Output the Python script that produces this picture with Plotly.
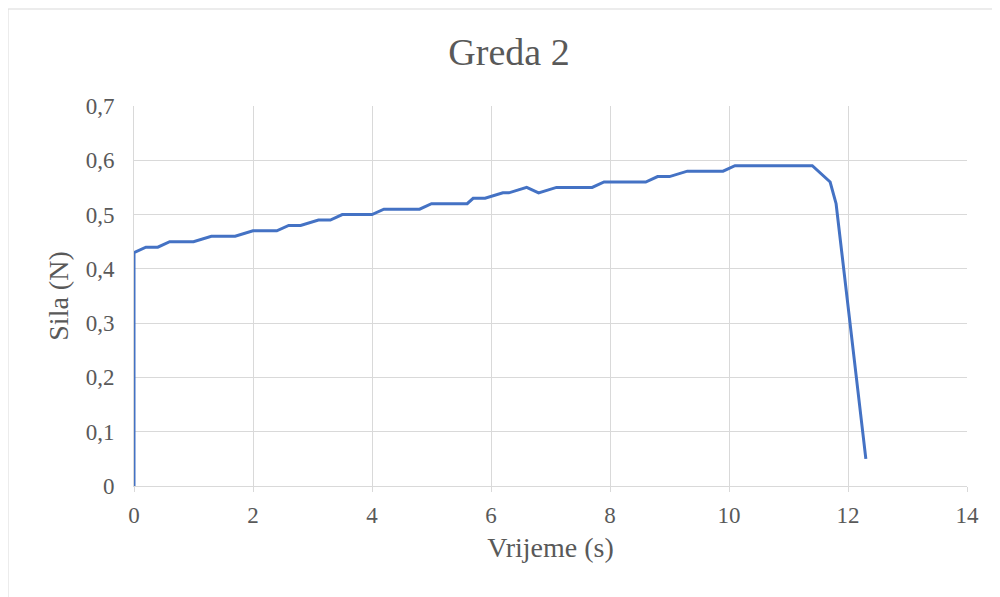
import plotly.graph_objects as go

time_s = [0, 0, 0.2, 0.4, 0.6, 1.0, 1.3, 1.7, 2.0, 2.4, 2.6, 2.8, 3.1, 3.3, 3.5, 4.0,
          4.2, 4.8, 5.0, 5.6, 5.7, 5.9, 6.2, 6.3, 6.6, 6.8, 7.1, 7.7, 7.9, 8.6, 8.8,
          9.0, 9.3, 9.9, 10.1, 11.4, 11.7, 11.8, 12.3]
force_n = [0, 0.43, 0.44, 0.44, 0.45, 0.45, 0.46, 0.46, 0.47, 0.47, 0.48, 0.48, 0.49,
           0.49, 0.50, 0.50, 0.51, 0.51, 0.52, 0.52, 0.53, 0.53, 0.54, 0.54, 0.55, 0.54,
           0.55, 0.55, 0.56, 0.56, 0.57, 0.57, 0.58, 0.58, 0.59, 0.59, 0.56, 0.52, 0.05]

x_ticks = [0, 2, 4, 6, 8, 10, 12, 14]
y_ticks = [0, 0.1, 0.2, 0.3, 0.4, 0.5, 0.6, 0.7]
y_tick_labels = ["0", "0,1", "0,2", "0,3", "0,4", "0,5", "0,6", "0,7"]

FONT = "Liberation Serif"
GRAY = "#595959"

fig = go.Figure()
fig.add_trace(go.Scatter(x=time_s, y=force_n, mode="lines",
                         line=dict(color="#4472C4", width=3), showlegend=False))

fig.update_layout(
    width=1000, height=597,
    paper_bgcolor="white", plot_bgcolor="white",
    margin=dict(l=126, r=41, t=98, b=119),
    title=dict(text="Greda 2", x=0.501, xref="container",
               xanchor="center", y=1 - 44 / 597, yanchor="middle",
               font=dict(family=FONT, size=38, color=GRAY)),
    font=dict(family=FONT, color=GRAY),
)
fig.update_xaxes(range=[0, 14], tickvals=x_ticks, ticks="outside", ticklen=5,
                 tickcolor="#d9d9d9", showgrid=True, gridcolor="#d9d9d9", gridwidth=1,
                 showline=True, linecolor="#d9d9d9", linewidth=1, zeroline=False,
                 ticklabelstandoff=3,
                 tickfont=dict(family=FONT, size=23, color=GRAY),
                 title=dict(text="Vrijeme (s)", font=dict(family=FONT, size=28, color=GRAY),
                            standoff=10))
fig.update_yaxes(range=[0, 0.7], tickvals=y_ticks, ticktext=y_tick_labels,
                 showgrid=True, gridcolor="#d9d9d9", gridwidth=1,
                 showline=True, linecolor="#d9d9d9", linewidth=1, zeroline=False,
                 ticks="", ticklabelstandoff=14,
                 tickfont=dict(family=FONT, size=23, color=GRAY),
                 title=dict(text="Sila (N)", font=dict(family=FONT, size=28, color=GRAY),
                            standoff=8))
# outer chart border
fig.add_shape(type="rect", xref="paper", yref="paper",
              x0=-126 / 833, x1=1.2, y0=-0.5, y1=(478 - 1) / 380,
              line=dict(color="#d9d9d9", width=1), fillcolor="rgba(0,0,0,0)", layer="below")

fig.write_html("out.html")
